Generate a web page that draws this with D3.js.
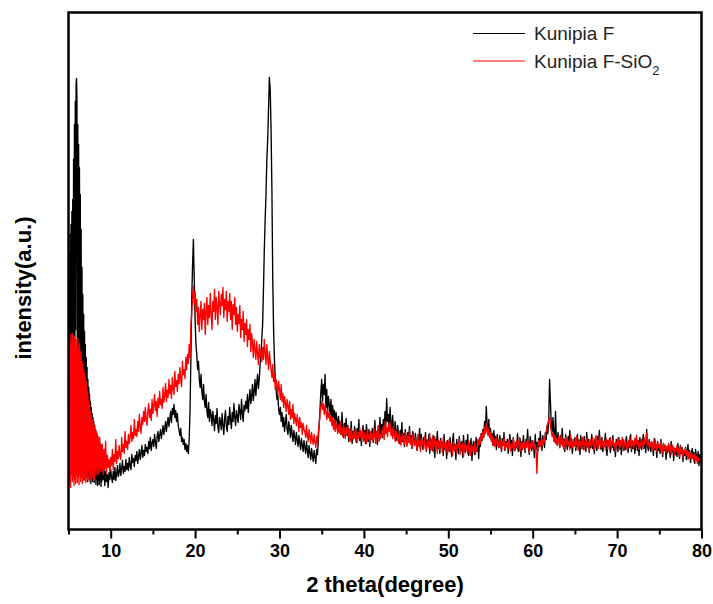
<!DOCTYPE html>
<html><head><meta charset="utf-8">
<script src="https://cdn.jsdelivr.net/npm/d3@7/dist/d3.min.js"></script>
<style>body{margin:0;background:#fff}svg{display:block}</style>
</head><body><svg id="c" width="713" height="604"></svg>
<script>
// ---- data ----
const seriesNames = ["Kunipia F", "Kunipia F-SiO"];
const seriesColors = ["#000000", "#ff0000"];
// measurement grids (degrees 2θ): fine scan 5.00–8.95, regular scan 9.0–80.0
const lowStart = 5, lowStep = 0.05;
const mainStart = 9, mainStep = 0.1;
const xMajorTicks = [10, 20, 30, 40, 50, 60, 70, 80];
const xMinorTicks = [5, 15, 25, 35, 45, 55, 65, 75];

const kunipiaFLow = [
250,60,275,70,295,55,305,80,318,65,330,90,370,75,405,120,428,200,445,451,
430,150,405,95,385,70,362,85,335,60,300,75,262,55,235,65,215,50,198,60,
185,52,172,58,162,48,150,55,142,50,135,57,128,46,122,53,116,48,112,55,
108,47,104,52,100,45,96,50,93,44,90,49,86,45,82,50,78,43,74,48
];
const kunipiaFSiO2Low = [
150,45,192,50,188,42,195,55,185,48,196,52,182,44,193,50,186,46,190,54,
184,47,191,52,180,45,186,55,175,48,178,52,168,46,165,55,160,49,156,53,
152,47,148,56,140,50,135,58,128,48,124,55,118,50,114,60,110,52,108,58,
105,50,103,60,100,54,98,62,96,55,93,60,90,56,92,62,86,58,84,60
];

const kunipiaF = [
70,50,62,44,58,48,55,42,57,50,
60,52,47,58,50,62,49,55,64,53,
57,66,54,61,69,56,63,58,70,60,
66,59,72,64,60,75,67,71,63,74,
69,78,66,73,80,70,76,84,72,79,
74,85,78,82,76,88,81,92,79,86,
90,83,95,87,81,93,98,88,94,100,
91,97,104,95,101,108,98,106,112,103,
110,118,107,121,115,125,112,119,108,116,
104,99,94,101,88,92,85,90,80,86,
78,84,76,90,120,170,230,265,290,250,
210,185,175,160,168,150,142,155,138,130,
145,128,122,135,118,112,127,108,120,115,
104,118,110,99,114,106,121,102,97,112,
108,100,116,104,95,111,119,103,98,113,
105,122,110,101,117,108,126,112,104,119,
113,107,125,118,110,130,116,108,124,119,
128,121,135,117,130,140,126,133,145,129,
138,150,134,146,155,141,150,165,175,190,
205,240,280,310,335,370,390,420,452,440,
400,340,250,200,170,150,140,130,135,120,
115,122,108,117,103,112,98,107,115,100,
95,108,101,92,104,96,88,99,93,85,
97,90,83,94,87,80,91,84,78,89,
82,76,88,79,72,84,77,70,81,74,
68,79,73,66,80,75,90,105,120,138,
150,128,145,135,155,122,140,118,133,125,
115,130,108,124,112,119,104,117,110,101,
113,98,108,95,117,102,92,106,99,111,
94,104,88,100,93,108,86,98,91,103,
96,87,101,92,110,89,98,84,95,104,
90,99,86,105,93,88,100,83,97,92,
101,87,95,109,91,98,85,103,94,112,
96,105,92,110,99,118,103,131,108,115,
100,122,106,97,114,102,93,108,99,89,
104,95,86,99,91,107,88,96,83,100,
92,85,97,89,103,87,94,81,98,90,
84,96,88,79,93,86,101,82,95,88,
80,92,86,97,78,89,84,95,76,91,
87,79,94,83,72,90,85,98,81,88,
76,91,83,87,74,95,80,86,71,89,
84,78,92,81,73,88,96,79,85,70,
90,82,76,93,85,79,88,72,94,83,
77,89,81,95,74,86,80,91,69,84,
88,75,82,92,78,86,71,90,83,96,
89,100,92,108,97,123,104,98,110,93,
101,90,96,84,99,88,93,80,95,86,
82,94,87,78,91,84,97,79,88,83,
90,76,86,95,80,89,74,92,84,79,
87,82,96,78,85,91,73,88,80,94,
83,77,90,86,100,81,75,93,85,79,
89,84,72,95,80,87,78,91,83,98,
86,79,94,88,82,97,90,104,96,110,
150,128,105,98,112,95,88,118,92,85,
97,89,82,94,86,101,83,90,78,95,
87,80,93,85,99,82,91,76,88,84,
92,79,86,95,81,89,75,94,83,88,
80,93,85,78,97,84,90,77,86,82,
95,81,88,76,91,85,79,93,84,99,
86,80,92,78,88,83,96,81,74,89,
84,91,77,87,82,94,79,86,73,90,
85,78,92,81,88,75,84,90,79,86,
80,93,83,77,89,82,95,78,87,81,
88,76,84,91,79,86,74,92,83,80,
86,95,81,89,77,100,84,79,90,82,
78,87,83,74,91,80,85,72,88,79,
83,76,90,81,73,86,79,84,70,82,
77,85,80,72,88,78,83,69,81,75,
80,73,86,77,71,84,76,82,68,79,
74,82,70,78,85,72,79,67,76,81,
71,77,66,80,73,69,78,64,75,70,
72
];

const kunipiaFSiO2 = [
85,55,80,60,88,57,74,62,70,58,
72,64,80,60,75,68,90,66,78,71,
84,74,70,92,78,85,76,98,82,88,
80,95,86,92,104,88,97,91,110,94,
100,93,108,98,115,102,96,112,105,118,
108,122,110,104,118,126,112,120,109,130,
116,124,135,119,128,113,131,122,138,125,
130,121,142,127,135,146,128,139,132,150,
136,144,131,152,140,135,158,143,149,138,
155,146,162,150,143,168,155,160,151,172,
160,175,166,185,172,205,215,232,243,225,
238,218,230,205,222,198,215,228,200,220,
210,226,195,218,232,205,224,212,236,215,
200,228,218,240,210,232,222,205,238,226,
215,235,224,242,212,230,220,238,208,228,
218,236,210,228,200,225,215,232,205,222,
198,215,206,224,192,210,200,218,188,206,
195,210,183,200,190,205,178,196,186,172,
190,180,170,188,176,165,185,172,180,168,
182,170,190,176,165,185,172,160,178,168,
160,152,165,148,156,140,150,145,135,148,
140,130,145,128,136,122,133,126,118,130,
124,115,128,110,120,112,125,106,116,110,
104,115,108,98,112,102,107,95,106,100,
98,92,104,94,88,100,93,86,97,90,
85,95,88,82,93,86,98,104,115,122,
128,120,126,115,124,118,110,120,112,116,
108,114,104,112,100,110,98,106,102,96,
104,97,108,95,101,93,105,98,91,102,
96,103,92,99,88,101,94,90,98,92,
100,93,87,97,91,102,95,89,99,94,
88,97,92,86,100,91,95,87,98,90,
96,89,101,93,86,98,92,104,88,95,
91,99,94,103,90,108,96,102,93,105,
98,107,94,100,91,103,95,88,99,92,
95,87,98,90,84,96,89,93,85,97,
90,83,94,87,99,85,91,82,95,88,
84,92,86,80,95,83,89,78,91,85,
88,81,93,84,79,90,86,82,96,80,
87,91,78,85,93,81,88,76,90,83,
80,89,84,77,92,82,86,79,88,75,
84,90,78,86,81,74,88,83,79,85,
77,86,82,90,75,84,80,87,73,82,
86,79,84,76,89,81,74,85,78,83,
80,87,75,82,78,90,84,92,86,95,
90,98,93,102,96,106,99,94,101,92,
97,88,94,85,91,83,89,92,84,88,
82,90,85,79,88,84,92,80,86,83,
87,81,90,84,78,86,82,91,79,85,
83,89,80,86,92,78,84,88,81,87,
85,79,88,82,90,84,77,86,81,89,
83,87,80,85,78,56,82,89,84,88,
81,90,85,92,87,95,98,102,106,110,
112,104,98,93,97,88,94,86,91,84,
89,93,82,88,95,84,90,80,87,92,
85,91,83,88,80,94,86,82,90,84,
88,82,93,86,79,90,84,88,81,92,
86,80,89,84,91,82,87,78,90,85,
83,92,86,80,88,94,84,89,81,93,
87,82,90,85,79,88,83,91,86,80,
89,84,92,81,87,90,83,86,78,88,
84,91,86,80,89,83,92,85,81,87,
90,84,79,88,83,93,86,80,89,85,
82,91,86,94,84,89,80,87,83,90,
86,81,92,85,89,96,84,88,82,87,
83,88,79,86,81,90,84,78,87,82,
85,79,88,82,76,86,80,84,77,83,
80,86,78,83,75,85,79,82,74,81,
78,84,76,81,73,83,77,80,72,79,
76,81,74,79,70,78,75,72,77,71,
74,68,76,70,73,66,72,69,71,67,
70
];

// ---- chart ----
const svg = d3.select("#c");
const m = {left: 68.5, right: 701.5, top: 12.5, bottom: 529.5};

const x = d3.scaleLinear().domain([5, 80]).range([m.left, m.right]);
const y = d3.scaleLinear().domain([0, 517]).range([m.bottom, m.top]);

const toPoints = (low, main) =>
  low.map((v, i) => [lowStart + i * lowStep, v])
     .concat(main.map((v, i) => [mainStart + i * mainStep, v]));
const line = d3.line().x(d => x(d[0])).y(d => y(d[1]));

const series = [[kunipiaFLow, kunipiaF], [kunipiaFSiO2Low, kunipiaFSiO2]];
series.forEach(([low, main], k) => {
  svg.append("path")
    .datum(toPoints(low, main))
    .attr("d", line)
    .attr("fill", "none")
    .attr("stroke", seriesColors[k])
    .attr("stroke-width", 1.35)
    .attr("stroke-linejoin", "round");
});

// frame
svg.append("rect")
  .attr("x", m.left).attr("y", m.top)
  .attr("width", m.right - m.left).attr("height", m.bottom - m.top)
  .attr("fill", "none").attr("stroke", "#000").attr("stroke-width", 2.5);

// x axis
const xAxis = d3.axisBottom(x).tickValues(xMajorTicks).tickSize(9).tickPadding(6)
  .tickFormat(d3.format("d"));
const gx = svg.append("g").attr("transform", `translate(0,${m.bottom})`).call(xAxis);
gx.select(".domain").remove();
gx.selectAll(".tick line").attr("stroke", "#000").attr("stroke-width", 2);
gx.selectAll(".tick text")
  .attr("font-family", "Liberation Sans, Arial, sans-serif")
  .attr("font-size", 18).attr("font-weight", "bold").attr("fill", "#000");

const xMinor = d3.axisBottom(x).tickValues(xMinorTicks).tickSize(5).tickFormat("");
const gxm = svg.append("g").attr("transform", `translate(0,${m.bottom})`).call(xMinor);
gxm.select(".domain").remove();
gxm.selectAll(".tick line").attr("stroke", "#000").attr("stroke-width", 2);

// axis titles
svg.append("text")
  .attr("x", (m.left + m.right) / 2).attr("y", 592)
  .attr("text-anchor", "middle")
  .attr("font-family", "Liberation Sans, Arial, sans-serif")
  .attr("font-size", 22).attr("font-weight", "bold")
  .text("2 theta(degree)");

svg.append("text")
  .attr("transform", "translate(31,288) rotate(-90)")
  .attr("text-anchor", "middle")
  .attr("font-family", "Liberation Sans, Arial, sans-serif")
  .attr("font-size", 22).attr("font-weight", "bold")
  .text("intensity(a.u.)");

// legend
const lg = svg.append("g");
seriesNames.forEach((name, k) => {
  const ly = 33.5 + k * 27.5;
  lg.append("line")
    .attr("x1", 473).attr("x2", 525).attr("y1", ly).attr("y2", ly)
    .attr("stroke", seriesColors[k]).attr("stroke-width", 1.2);
  const t = lg.append("text")
    .attr("x", 534).attr("y", ly + 6.5)
    .attr("font-family", "Liberation Sans, Arial, sans-serif")
    .attr("font-size", 19).attr("fill", "#222")
    .text(name);
  if (k === 1) {
    t.append("tspan").attr("font-size", 13).attr("dy", 7).text("2");
  }
});
</script>
</body></html>
